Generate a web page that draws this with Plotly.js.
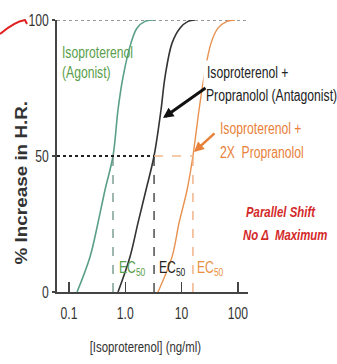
<!DOCTYPE html>
<html>
<head>
<meta charset="utf-8">
<script src="https://cdn.plot.ly/plotly-3.0.1.min.js"></script>
<style>
html,body{margin:0;padding:0;background:#fff;}
#chart{width:337px;height:364px;}
</style>
</head>
<body>
<div id="chart"></div>
<script>
// Data
const agonistX   = [0.139, 0.236, 0.327, 0.436, 0.605, 0.742, 0.91, 1.26, 1.61, 2.24, 3.37];
const agonistY   = [0, 12.9, 25.4, 37.5, 50, 67, 79, 91.5, 97, 99.5, 100];
const antagX     = [0.742, 1.21, 1.68, 2.33, 3.24, 4.31, 5.07, 6.76, 9.34, 13.0, 17.3];
const antagY     = [0, 12.9, 25.4, 37.5, 50, 67, 79, 91.5, 97, 99.5, 100];
const antag2X    = [3.81, 6.75, 9.0, 12.5, 15.9, 20.4, 25.0, 33.3, 44.3, 64.0, 88.8];
const antag2Y    = [0, 12.9, 25.4, 37.5, 50, 67, 79, 91.5, 97, 99.5, 100];
const ec50       = [0.605, 3.24, 15.9];
const halfMax    = 50;
const maxResp    = 100;
const xTickVals  = [0.1, 1, 10, 100];
const xTickText  = ["0.1", "1.0", "10", "100"];
const yTickVals  = [0, 50, 100];
const yTickText  = ["0", "50", "100"];

const FONT = "'Liberation Sans', Arial, sans-serif";
const GREEN = "#5a9f88", BLACK = "#333333", ORANGE = "#e8914f";
const xMinLog = -1.213, xMaxLog = 2.179;
const xMin = Math.pow(10, xMinLog);

const traces = [
  {x: agonistX, y: agonistY, mode: "lines", line: {color: GREEN, width: 1.6, shape: "spline", smoothing: 1}, hoverinfo: "skip", cliponaxis: false},
  {x: antagX, y: antagY, mode: "lines", line: {color: BLACK, width: 1.6, shape: "spline", smoothing: 1}, hoverinfo: "skip", cliponaxis: false},
  {x: antag2X, y: antag2Y, mode: "lines", line: {color: ORANGE, width: 1.4, shape: "spline", smoothing: 1}, hoverinfo: "skip", cliponaxis: false},
  {x: [xMin, ec50[1]], y: [halfMax, halfMax], mode: "lines", line: {color: "#222", width: 2.2, dash: "dot"}, hoverinfo: "skip"},
  {x: [ec50[1], ec50[2]], y: [halfMax, halfMax], mode: "lines", line: {color: "#f0b88a", width: 1.6, dash: "dash"}, hoverinfo: "skip"},
  {x: [ec50[0], ec50[0]], y: [0, halfMax], mode: "lines", line: {color: "#6a8f86", width: 1.3, dash: "dash"}, hoverinfo: "skip"},
  {x: [ec50[1], ec50[1]], y: [0, halfMax], mode: "lines", line: {color: "#333", width: 1.3, dash: "dash"}, hoverinfo: "skip"},
  {x: [ec50[2], ec50[2]], y: [0, halfMax], mode: "lines", line: {color: "#f0a878", width: 1.3, dash: "dash"}, hoverinfo: "skip"}
];

function px(x) { return (x - 57) / 191; }
function py(y) { return (292 - y) / 272; }
function lbl(text, x, y, color, opts) {
  return Object.assign({xref: "paper", yref: "paper", x: px(x), y: py(y), xanchor: "left", yanchor: "middle",
    align: "left", text: text, showarrow: false, font: {family: FONT, size: 16, color: color}}, opts || {});
}

const annotations = [
  lbl("Isoproterenol", 60, 52, "#5a9e4b"),
  lbl("(Agonist)", 60, 72, "#5a9e4b"),
  lbl("Isoproterenol +", 203, 72, "#222", {bgcolor: "#ffffff", borderpad: 3}),
  lbl("Propranolol (Antagonist)", 203, 95, "#222", {bgcolor: "#ffffff", borderpad: 2}),
  lbl("Isoproterenol +", 218, 128, "#e8813a", {bgcolor: "#ffffff"}),
  lbl("2X  Propranolol", 218, 152, "#e8813a", {bgcolor: "#ffffff"}),
  lbl("<b><i>Parallel Shift</i></b>", 244, 211, "#d42a2a", {font: {family: FONT, size: 15, color: "#d42a2a"}}),
  lbl("<b><i>No \u0394  Maximum</i></b>", 241, 234, "#d42a2a", {font: {family: FONT, size: 15, color: "#d42a2a"}}),
  lbl("EC<sub>50</sub>", 117, 268, "#5a9e4b"),
  lbl("EC<sub>50</sub>", 157, 268, "#222"),
  lbl("EC<sub>50</sub>", 195, 268, "#e8913f"),
  {xref: "paper", yref: "paper", x: px(163), y: py(118), ax: 44, ay: -31, text: "", showarrow: true,
   arrowhead: 2, arrowsize: 0.7, arrowwidth: 3, arrowcolor: "#111"},
  {xref: "paper", yref: "paper", x: px(194), y: py(152), ax: 22, ay: -20, text: "", showarrow: true,
   arrowhead: 2, arrowsize: 0.8, arrowwidth: 2.5, arrowcolor: "#e8813a"},
  {xref: "paper", yref: "paper", x: px(21), y: py(183), xanchor: "center", yanchor: "middle", textangle: -90,
   text: "<b>% Increase in H.R.</b>", showarrow: false, font: {family: FONT, size: 16, color: "#333"}},
  {xref: "paper", yref: "paper", x: px(145), y: py(346), xanchor: "center", yanchor: "middle",
   text: "[Isoproterenol] (ng/ml)", showarrow: false, font: {family: FONT, size: 15, color: "#333"}}
];

const layout = {
  width: 337, height: 364,
  margin: {l: 57, r: 89, t: 20, b: 72, pad: 0},
  paper_bgcolor: "#fff", plot_bgcolor: "#fff",
  showlegend: false,
  font: {family: FONT, size: 16, color: "#333"},
  xaxis: {type: "log", range: [xMinLog, xMaxLog], tickvals: xTickVals, ticktext: xTickText,
          ticks: "inside", ticklen: 10, tickwidth: 1.5, tickcolor: "#444", ticklabelstandoff: 6,
          showline: true, linewidth: 2, linecolor: "#444", showgrid: false, zeroline: false,
          tickfont: {family: FONT, size: 16, color: "#333"}, fixedrange: true},
  yaxis: {range: [0, 100], tickvals: yTickVals, ticktext: yTickText, ticks: "outside", ticklen: 3, tickwidth: 1.5, tickcolor: "#444",
          showline: true, linewidth: 2, linecolor: "#444", showgrid: false, zeroline: false,
          tickfont: {family: FONT, size: 16, color: "#333"}, fixedrange: true},
  shapes: [
    {type: "line", xref: "paper", yref: "y", x0: 0, x1: 1, y0: maxResp, y1: maxResp,
     line: {color: "#999", width: 2, dash: "dot"}, layer: "below"},
    {type: "path", xref: "paper", yref: "paper",
     path: "M " + px(0) + "," + py(34) + " Q " + px(14) + "," + py(22) + " " + px(25) + "," + py(20) + " L " + px(27) + "," + py(24),
     line: {color: "#e02020", width: 2}}
  ],
  annotations: annotations
};

// Narrow (condensed) look of the original lettering: scale glyphs horizontally around their anchor.
function condenseTexts(gd) {
  gd.querySelectorAll(".main-svg text").forEach(function (el) {
    const content = el.textContent || "";
    if (!content.trim()) return;
    const s = content.indexOf("% Increase") === 0 ? 1.18 : 0.76;
    const bb = el.getBBox();
    const anchor = el.getAttribute("text-anchor") || "start";
    const ax = anchor === "middle" ? bb.x + bb.width / 2 : (anchor === "end" ? bb.x + bb.width : bb.x);
    const t = el.getAttribute("transform") || "";
    el.setAttribute("transform", (t + " translate(" + ax + ",0) scale(" + s + ",1) translate(" + (-ax) + ",0)").trim());
  });
}

Plotly.newPlot("chart", traces, layout, {displayModeBar: false, staticPlot: true}).then(function (gd) {
  condenseTexts(gd);
});
</script>
</body>
</html>
